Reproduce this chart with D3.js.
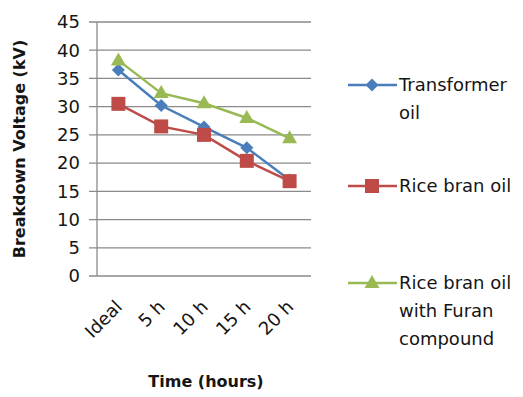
<!DOCTYPE html>
<html>
<head>
<meta charset="utf-8">
<script src="https://cdn.jsdelivr.net/npm/d3@7"></script>
<style>
  body { margin: 0; background: #fff; }
  text { font-family: 'DejaVu Sans', sans-serif; fill: #151515; }
</style>
</head>
<body>
<svg id="chart" width="523" height="397"></svg>
<script>
let categories = ['Ideal', '5 h', '10 h', '15 h', '20 h']
let transformer_oil = [36.5, 30.2, 26.4, 22.7, 17]
let rice_bran_oil = [30.5, 26.5, 25, 20.4, 16.8]
let rice_bran_furan = [38.2, 32.4, 30.6, 28, 24.4]
let y_ticks = [0, 5, 10, 15, 20, 25, 30, 35, 40, 45]

let series = [
    { name: ['Transformer', 'oil'], values: transformer_oil, color: '#4a7ebb', marker: 'diamond', ly: 85 },
    { name: ['Rice bran oil'], values: rice_bran_oil, color: '#be4b48', marker: 'square', ly: 186 },
    { name: ['Rice bran oil', 'with Furan', 'compound'], values: rice_bran_furan, color: '#98b954', marker: 'triangle', ly: 283 }
]

let pad = { l: 97, r: 212, t: 22, b: 121 }
let width = 523, height = 397
let svg = d3.select('#chart')

let x = d3.scaleBand().domain(categories).range([pad.l, width - pad.r])
let y = d3.scaleLinear().domain([0, 45]).range([height - pad.b, pad.t])

// gridlines + tick marks
svg.append('g')
    .selectAll('line').data(y_ticks).enter()
    .append('line')
    .attr('x1', pad.l - 8).attr('x2', width - pad.r)
    .attr('y1', d => y(d)).attr('y2', d => y(d))
    .attr('stroke', '#8a8a8a').attr('stroke-width', 1.3)

svg.append('line')
    .attr('x1', pad.l).attr('x2', pad.l)
    .attr('y1', y(45)).attr('y2', y(0))
    .attr('stroke', '#8a8a8a').attr('stroke-width', 1.3)

svg.append('g')
    .selectAll('text').data(y_ticks).enter()
    .append('text')
    .attr('x', pad.l - 17).attr('y', d => y(d))
    .attr('dy', '0.35em')
    .attr('text-anchor', 'end')
    .style('font-size', '18px')
    .text(d => d)

svg.append('g')
    .selectAll('text').data(categories).enter()
    .append('text')
    .attr('transform', d => `translate(${x(d) + x.bandwidth() / 2 + 5},${y(0) + 32}) rotate(-45)`)
    .attr('text-anchor', 'end')
    .style('font-size', '18px')
    .text(d => d)

svg.append('text')
    .attr('transform', `translate(25,${(y(0) + y(45)) / 2}) rotate(-90)`)
    .attr('text-anchor', 'middle')
    .style('font-size', '16px').style('font-weight', 'bold')
    .text('Breakdown Voltage (kV)')

svg.append('text')
    .attr('x', 206).attr('y', 387)
    .attr('text-anchor', 'middle')
    .style('font-size', '16px').style('font-weight', 'bold')
    .text('Time (hours)')

function marker(g, type, color) {
    if (type === 'diamond')
        g.append('path').attr('d', 'M0,-6.5L6.5,0L0,6.5L-6.5,0Z').attr('fill', color)
    else if (type === 'square')
        g.append('rect').attr('x', -7).attr('y', -7).attr('width', 14).attr('height', 14).attr('fill', color)
    else
        g.append('path').attr('d', 'M0,-8L7.5,5L-7.5,5Z').attr('fill', color)
}

let line = d3.line()
    .x((d, i) => x(categories[i]) + x.bandwidth() / 2)
    .y(d => y(d))

series.forEach(s => {
    svg.append('path')
        .attr('d', line(s.values))
        .attr('fill', 'none')
        .attr('stroke', s.color)
        .attr('stroke-width', 2.5)

    s.values.forEach((v, i) => {
        let g = svg.append('g')
            .attr('transform', `translate(${x(categories[i]) + x.bandwidth() / 2},${y(v)})`)
        marker(g, s.marker, s.color)
    })

    // legend
    svg.append('line')
        .attr('x1', 348).attr('x2', 397)
        .attr('y1', s.ly).attr('y2', s.ly)
        .attr('stroke', s.color).attr('stroke-width', 2.5)
    let g = svg.append('g').attr('transform', `translate(372,${s.ly})`)
    marker(g, s.marker, s.color)

    s.name.forEach((t, k) => {
        svg.append('text')
            .attr('x', 399).attr('y', s.ly + k * 28)
            .attr('dy', '0.35em')
            .style('font-size', '18px')
            .text(t)
    })
})
</script>
</body>
</html>
